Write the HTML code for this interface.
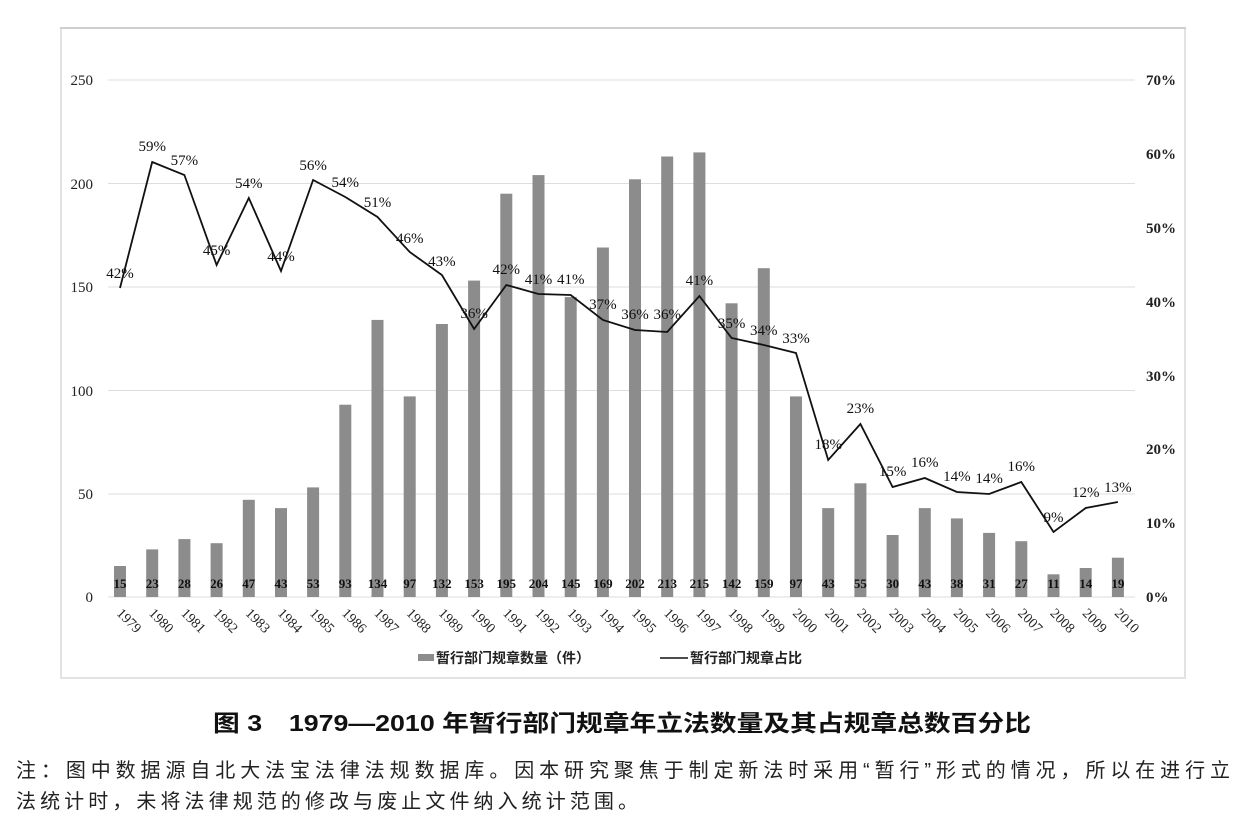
<!DOCTYPE html>
<html><head><meta charset="utf-8"><style>
html,body{margin:0;padding:0;background:#fff;width:1246px;height:822px;overflow:hidden}
svg{display:block}
.n{font-family:"Liberation Serif","Noto Serif CJK SC",serif;font-size:15px;fill:#111}
.b{font-family:"Liberation Serif",serif;font-size:13px;font-weight:bold;fill:#111}
.ax{font-family:"Liberation Serif",serif;font-size:15px;fill:#222}
.axr{font-family:"Liberation Serif",serif;font-size:15px;font-weight:bold;fill:#222}
.yr{font-family:"Liberation Serif",serif;font-size:14px;fill:#222}
.lg{font-family:"Liberation Sans","Noto Sans CJK SC",sans-serif;font-size:14px;font-weight:bold;fill:#222}
.cap{font-family:"Liberation Sans","Noto Sans CJK SC",sans-serif;font-size:23px;font-weight:bold;fill:#111}
.note{font-family:"Liberation Sans","Noto Sans CJK SC",sans-serif;font-size:20px;fill:#222}
</style></head><body>
<svg width="1246" height="822" xmlns="http://www.w3.org/2000/svg">
<rect x="61" y="28" width="1124" height="650" fill="#fff" stroke="#e2e2e2" stroke-width="2"/>
<line x1="60" y1="28" x2="1186" y2="28" stroke="#cfcfcf" stroke-width="2"/>
<g stroke="#ddd" stroke-width="1">
<line x1="108" y1="80" x2="1135" y2="80"/><line x1="108" y1="183.5" x2="1135" y2="183.5"/>
<line x1="108" y1="287" x2="1135" y2="287"/><line x1="108" y1="390.5" x2="1135" y2="390.5"/>
<line x1="108" y1="494" x2="1135" y2="494"/><line x1="108" y1="597" x2="1135" y2="597"/>
</g>
<g class="ax" text-anchor="end">
<text x="93" y="85">250</text><text x="93" y="189">200</text><text x="93" y="292">150</text>
<text x="93" y="396">100</text><text x="93" y="499">50</text><text x="93" y="602">0</text>
</g>
<g class="axr">
<text x="1146" y="85">70%</text><text x="1146" y="159">60%</text><text x="1146" y="233">50%</text>
<text x="1146" y="307">40%</text><text x="1146" y="381">30%</text><text x="1146" y="454">20%</text>
<text x="1146" y="528">10%</text><text x="1146" y="602">0%</text>
</g>
<g fill="#8c8c8c">
<rect x="114" y="566" width="12" height="31"/><rect x="146.2" y="549.4" width="12" height="47.6"/>
<rect x="178.4" y="539.1" width="12" height="57.9"/><rect x="210.6" y="543.2" width="12" height="53.8"/>
<rect x="242.8" y="499.8" width="12" height="97.2"/><rect x="275" y="508.1" width="12" height="88.9"/>
<rect x="307.1" y="487.4" width="12" height="109.6"/><rect x="339.3" y="404.7" width="12" height="192.3"/>
<rect x="371.5" y="319.9" width="12" height="277.1"/><rect x="403.7" y="396.4" width="12" height="200.6"/>
<rect x="435.9" y="324" width="12" height="273"/><rect x="468.1" y="280.6" width="12" height="316.4"/>
<rect x="500.3" y="193.7" width="12" height="403.3"/><rect x="532.5" y="175.1" width="12" height="421.9"/>
<rect x="564.7" y="297.1" width="12" height="299.9"/><rect x="596.9" y="247.5" width="12" height="349.5"/>
<rect x="629" y="179.3" width="12" height="417.7"/><rect x="661.2" y="156.5" width="12" height="440.5"/>
<rect x="693.4" y="152.4" width="12" height="444.6"/><rect x="725.6" y="303.3" width="12" height="293.7"/>
<rect x="757.8" y="268.2" width="12" height="328.8"/><rect x="790" y="396.4" width="12" height="200.6"/>
<rect x="822.2" y="508.1" width="12" height="88.9"/><rect x="854.4" y="483.3" width="12" height="113.7"/>
<rect x="886.6" y="535" width="12" height="62"/><rect x="918.8" y="508.1" width="12" height="88.9"/>
<rect x="950.9" y="518.4" width="12" height="78.6"/><rect x="983.1" y="532.9" width="12" height="64.1"/>
<rect x="1015.3" y="541.2" width="12" height="55.8"/><rect x="1047.5" y="574.3" width="12" height="22.7"/>
<rect x="1079.7" y="568" width="12" height="29"/><rect x="1111.9" y="557.7" width="12" height="39.3"/>
</g>
<g class="b" text-anchor="middle">
<text x="120" y="588">15</text><text x="152.2" y="588">23</text><text x="184.4" y="588">28</text><text x="216.6" y="588">26</text>
<text x="248.8" y="588">47</text><text x="281" y="588">43</text><text x="313.1" y="588">53</text><text x="345.3" y="588">93</text>
<text x="377.5" y="588">134</text><text x="409.7" y="588">97</text><text x="441.9" y="588">132</text><text x="474.1" y="588">153</text>
<text x="506.3" y="588">195</text><text x="538.5" y="588">204</text><text x="570.7" y="588">145</text><text x="602.9" y="588">169</text>
<text x="635" y="588">202</text><text x="667.2" y="588">213</text><text x="699.4" y="588">215</text><text x="731.6" y="588">142</text>
<text x="763.8" y="588">159</text><text x="796" y="588">97</text><text x="828.2" y="588">43</text><text x="860.4" y="588">55</text>
<text x="892.6" y="588">30</text><text x="924.8" y="588">43</text><text x="956.9" y="588">38</text><text x="989.1" y="588">31</text>
<text x="1021.3" y="588">27</text><text x="1053.5" y="588">11</text><text x="1085.7" y="588">14</text><text x="1117.9" y="588">19</text>
</g>
<polyline fill="none" stroke="#111" stroke-width="1.8" points="120,288 152.2,162 184.4,175 216.6,265 248.8,198 281,271 313.1,180 345.3,197 377.5,217 409.7,252 441.9,275 474.1,329 506.3,285 538.5,294 570.7,295 602.9,320 635,330 667.2,332 699.4,296 731.6,338 763.8,345 796,353 828.2,460 860.4,424 892.6,487 924.8,478 956.9,492 989.1,494 1021.3,482 1053.5,532 1085.7,508 1117.9,502"/>
<g class="n" text-anchor="middle">
<text x="120" y="278">42%</text><text x="152.2" y="151">59%</text><text x="184.4" y="165">57%</text><text x="216.6" y="255">45%</text>
<text x="248.8" y="188">54%</text><text x="281" y="261">44%</text><text x="313.1" y="170">56%</text><text x="345.3" y="187">54%</text>
<text x="377.5" y="207">51%</text><text x="409.7" y="243">46%</text><text x="441.9" y="266">43%</text><text x="474.1" y="318">36%</text>
<text x="506.3" y="274">42%</text><text x="538.5" y="284">41%</text><text x="570.7" y="284">41%</text><text x="602.9" y="309">37%</text>
<text x="635" y="319">36%</text><text x="667.2" y="319">36%</text><text x="699.4" y="285">41%</text><text x="731.6" y="328">35%</text>
<text x="763.8" y="335">34%</text><text x="796" y="343">33%</text><text x="828.2" y="449">18%</text><text x="860.4" y="413">23%</text>
<text x="892.6" y="476">15%</text><text x="924.8" y="467">16%</text><text x="956.9" y="481">14%</text><text x="989.1" y="483">14%</text>
<text x="1021.3" y="471">16%</text><text x="1053.5" y="522">9%</text><text x="1085.7" y="497">12%</text><text x="1117.9" y="492">13%</text>
</g>
<g class="yr">
<text transform="translate(116,614) rotate(45)">1979</text><text transform="translate(148.2,614) rotate(45)">1980</text>
<text transform="translate(180.4,614) rotate(45)">1981</text><text transform="translate(212.6,614) rotate(45)">1982</text>
<text transform="translate(244.8,614) rotate(45)">1983</text><text transform="translate(277,614) rotate(45)">1984</text>
<text transform="translate(309.1,614) rotate(45)">1985</text><text transform="translate(341.3,614) rotate(45)">1986</text>
<text transform="translate(373.5,614) rotate(45)">1987</text><text transform="translate(405.7,614) rotate(45)">1988</text>
<text transform="translate(437.9,614) rotate(45)">1989</text><text transform="translate(470.1,614) rotate(45)">1990</text>
<text transform="translate(502.3,614) rotate(45)">1991</text><text transform="translate(534.5,614) rotate(45)">1992</text>
<text transform="translate(566.7,614) rotate(45)">1993</text><text transform="translate(598.9,614) rotate(45)">1994</text>
<text transform="translate(631,614) rotate(45)">1995</text><text transform="translate(663.2,614) rotate(45)">1996</text>
<text transform="translate(695.4,614) rotate(45)">1997</text><text transform="translate(727.6,614) rotate(45)">1998</text>
<text transform="translate(759.8,614) rotate(45)">1999</text><text transform="translate(792,614) rotate(45)">2000</text>
<text transform="translate(824.2,614) rotate(45)">2001</text><text transform="translate(856.4,614) rotate(45)">2002</text>
<text transform="translate(888.6,614) rotate(45)">2003</text><text transform="translate(920.8,614) rotate(45)">2004</text>
<text transform="translate(952.9,614) rotate(45)">2005</text><text transform="translate(985.1,614) rotate(45)">2006</text>
<text transform="translate(1017.3,614) rotate(45)">2007</text><text transform="translate(1049.5,614) rotate(45)">2008</text>
<text transform="translate(1081.7,614) rotate(45)">2009</text><text transform="translate(1113.9,614) rotate(45)">2010</text>
</g>
<rect x="418" y="654" width="16" height="7" fill="#8c8c8c"/>
<text class="lg" x="436" y="663">暂行部门规章数量（件）</text>
<line x1="660" y1="658" x2="688" y2="658" stroke="#111" stroke-width="1.5"/>
<text class="lg" x="690" y="663">暂行部门规章占比</text>
<text class="cap" x="213" y="731" textLength="818" lengthAdjust="spacingAndGlyphs">图 3　1979—2010 年暂行部门规章年立法数量及其占规章总数百分比</text>
<text class="note" x="16" y="777" textLength="1214" lengthAdjust="spacing">注：图中数据源自北大法宝法律法规数据库。因本研究聚焦于制定新法时采用“暂行”形式的情况，所以在进行立</text>
<text class="note" x="16" y="808" textLength="622" lengthAdjust="spacing">法统计时，未将法律规范的修改与废止文件纳入统计范围。</text>
</svg>
</body></html>
